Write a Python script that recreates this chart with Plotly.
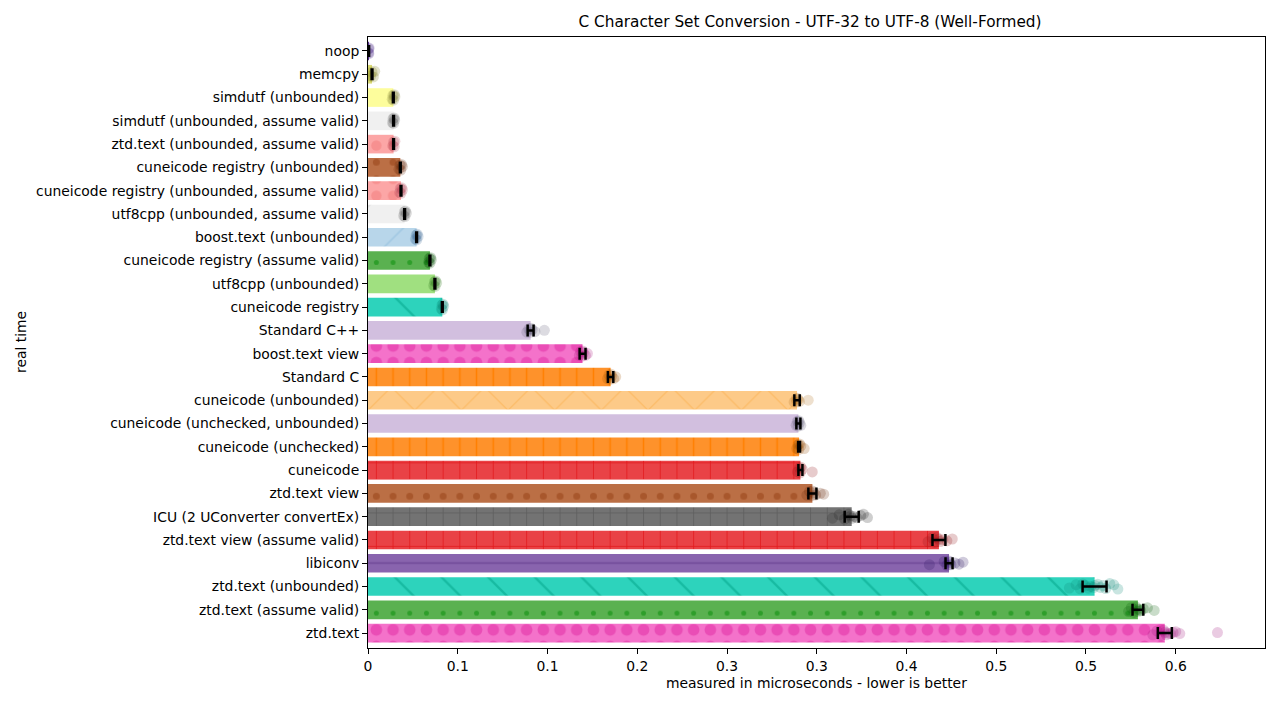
import plotly.graph_objects as go

categories = [
    "noop", "memcpy", "simdutf (unbounded)", "simdutf (unbounded, assume valid)",
    "ztd.text (unbounded, assume valid)", "cuneicode registry (unbounded)",
    "cuneicode registry (unbounded, assume valid)", "utf8cpp (unbounded, assume valid)",
    "boost.text (unbounded)", "cuneicode registry (assume valid)", "utf8cpp (unbounded)",
    "cuneicode registry", "Standard C++", "boost.text view", "Standard C",
    "cuneicode (unbounded)", "cuneicode (unchecked, unbounded)", "cuneicode (unchecked)",
    "cuneicode", "ztd.text view", "ICU (2 UConverter convertEx)",
    "ztd.text view (assume valid)", "libiconv", "ztd.text (unbounded)",
    "ztd.text (assume valid)", "ztd.text",
]

means = [
    0.0005, 0.003, 0.0188, 0.019, 0.019, 0.024, 0.0245, 0.0272, 0.0361, 0.046, 0.0497,
    0.0552, 0.1208, 0.1594, 0.1802, 0.3187, 0.3197, 0.3202, 0.3212, 0.3301, 0.3593,
    0.4241, 0.4316, 0.5397, 0.5719, 0.5919,
]

errors = [
    0.0003, 0.0003, 0.0003, 0.0003, 0.0003, 0.0003, 0.0003, 0.0003, 0.0003, 0.0003, 0.0003,
    0.0003, 0.0022, 0.0022, 0.002, 0.002, 0.0015, 0.0007, 0.0015, 0.003, 0.0052,
    0.0048, 0.0026, 0.0089, 0.004, 0.0052,
]

samples = [
    [0.0003, 0.0005, 0.0006, 0.0008],
    [0.002, 0.003, 0.004, 0.005],
    [0.018, 0.0185, 0.019, 0.0195, 0.020],
    [0.0182, 0.0186, 0.019, 0.0194, 0.0198],
    [0.0185, 0.019, 0.0195, 0.020],
    [0.023, 0.0238, 0.0243, 0.0248, 0.0255],
    [0.0235, 0.024, 0.0245, 0.025, 0.0256],
    [0.0265, 0.027, 0.0274, 0.0278, 0.0285],
    [0.0352, 0.0358, 0.0362, 0.0366, 0.0372],
    [0.045, 0.0455, 0.046, 0.0465, 0.047],
    [0.0488, 0.0494, 0.0498, 0.0502, 0.051],
    [0.0545, 0.055, 0.0553, 0.0557, 0.0562],
    [0.118, 0.1195, 0.1205, 0.121, 0.122, 0.124, 0.131],
    [0.157, 0.158, 0.159, 0.1595, 0.160, 0.1615, 0.163],
    [0.178, 0.179, 0.1798, 0.1805, 0.181, 0.1825, 0.184],
    [0.3165, 0.318, 0.3185, 0.319, 0.3195, 0.3205, 0.327],
    [0.318, 0.319, 0.3195, 0.320, 0.3205, 0.3215],
    [0.3185, 0.3195, 0.320, 0.3205, 0.3215, 0.324],
    [0.319, 0.3205, 0.321, 0.3215, 0.3225, 0.330],
    [0.326, 0.328, 0.3295, 0.330, 0.331, 0.3325, 0.336, 0.3385],
    [0.345, 0.350, 0.354, 0.357, 0.3585, 0.3595, 0.361, 0.363, 0.366, 0.368, 0.371],
    [0.416, 0.419, 0.421, 0.4225, 0.424, 0.425, 0.427, 0.430, 0.434],
    [0.417, 0.428, 0.430, 0.4315, 0.432, 0.433, 0.436, 0.439, 0.442],
    [0.521, 0.526, 0.529, 0.531, 0.533, 0.535, 0.537, 0.539, 0.540, 0.542, 0.544,
     0.546, 0.548, 0.551, 0.554, 0.557],
    [0.565, 0.567, 0.569, 0.5705, 0.5715, 0.572, 0.573, 0.574, 0.576, 0.579, 0.584],
    [0.583, 0.586, 0.589, 0.591, 0.592, 0.593, 0.594, 0.596, 0.598, 0.600, 0.603, 0.631],
]

x_tick_values = [0, 0.0667, 0.1333, 0.2, 0.2667, 0.3333, 0.4, 0.4667, 0.5333, 0.6]
x_tick_labels = ["0", "0.1", "0.1", "0.2", "0.3", "0.3", "0.4", "0.5", "0.5", "0.6"]

# styles
bar_colors = [
    "#5b3593", "#d8d874", "#fdfd9c", "#f0f0f0", "#fca6a6", "#bb6f45", "#fca6a6", "#f0f0f0",
    "#b8d6ea", "#5ab150", "#a0e080", "#2dd3bc", "#d2bfdf", "#f472ca", "#fe922b",
    "#fdca88", "#d2bfdf", "#fe922b", "#e94246", "#bb6f45", "#737373", "#e94246",
    "#8964ae", "#2dd3bc", "#5ab150", "#f472ca",
]
pattern_shapes = [
    "", "", "", "", ".", ".", ".", "/", "/", ".", "", "\\", "", ".", "|",
    "x", "", "|", "+", ".", "+", "+", "-", "\\", ".", ".",
]
pattern_fg = [
    "#5b3593", "#d8d874", "#fdfd9c", "#f0f0f0", "#f79090", "#a8572c", "#f79090", "#e0e0e0",
    "#a3c9e3", "#2e9e2a", "#a0e080", "#17bba2", "#d2bfdf", "#ea4db6", "#ff7f00",
    "#fcb860", "#d2bfdf", "#ff7f00", "#e31a1c", "#a8572c", "#5e5e5e", "#e31a1c",
    "#6f4897", "#17bba2", "#2e9e2a", "#ea4db6",
]
pattern_size = [
    8, 8, 8, 8, 16.7, 16.7, 16.7, 40, 40, 16.7, 8, 33, 8, 16.7, 16.7,
    33, 8, 16.7, 16.7, 16.7, 16.7, 16.7, 16.7, 33, 16.7, 16.7,
]
pattern_solid = [
    0.1, 0.1, 0.1, 0.1, 0.3, 0.14, 0.3, 0.04, 0.04, 0.07, 0.1, 0.07, 0.1, 0.38, 0.09,
    0.06, 0.1, 0.09, 0.09, 0.14, 0.09, 0.09, 0.09, 0.07, 0.07, 0.38,
]
point_colors = [
    "#3f1a80", "#7a7a10", "#808030", "#606060", "#b04050", "#6a2808", "#b04050", "#606060",
    "#3a6a98", "#0a500a", "#307a20", "#088a75", "#605a78", "#a8107a", "#a05000",
    "#b07020", "#605a78", "#904800", "#901015", "#6a2808", "#202020", "#901015",
    "#2a1060", "#088a75", "#0a5e0a", "#a0107a",
]


def rgba(hexc, a):
    h = hexc.lstrip("#")
    return "rgba(%d,%d,%d,%.3f)" % (int(h[0:2], 16), int(h[2:4], 16), int(h[4:6], 16), a)


fig = go.Figure()

for i, cat in enumerate(categories):
    pat = dict(shape=pattern_shapes[i], fgcolor=pattern_fg[i], fgopacity=1,
               size=pattern_size[i], solidity=pattern_solid[i], fillmode="overlay")
    fig.add_trace(go.Bar(
        x=[means[i]], y=[cat], orientation="h", width=0.8,
        marker=dict(color=bar_colors[i], line=dict(width=0), pattern=pat),
        hoverinfo="skip", showlegend=False,
    ))

for cat, vals, col in zip(categories, samples, point_colors):
    fig.add_trace(go.Box(
        x=vals, y=[cat] * len(vals), orientation="h",
        boxpoints="all", jitter=0.6, pointpos=0,
        fillcolor="rgba(0,0,0,0)", line=dict(width=0, color="rgba(0,0,0,0)"),
        marker=dict(size=11, color=rgba(col, 0.22), line=dict(width=0)),
        hoverinfo="skip", showlegend=False,
    ))

fig.add_trace(go.Scatter(
    x=means, y=categories, mode="markers",
    marker=dict(size=1, color="rgba(0,0,0,0)"),
    error_x=dict(type="data", array=errors, color="black", thickness=2.5, width=6),
    hoverinfo="skip", showlegend=False,
))

font = "DejaVu Sans, Liberation Sans, sans-serif"
fig.update_layout(
    width=1280, height=720,
    margin=dict(l=368, r=15, t=37, b=72),
    paper_bgcolor="white", plot_bgcolor="white",
    barmode="overlay", boxmode="overlay", boxgap=0.3,
    font=dict(family=font, size=13.9, color="black"),
    title=dict(text="C Character Set Conversion - UTF-32 to UTF-8 (Well-Formed)",
               x=810 / 1280, xanchor="center", y=1 - 22 / 720, yanchor="middle",
               font=dict(size=15.3, color="black")),
    showlegend=False,
    annotations=[
        dict(text="measured in microseconds - lower is better", x=0.5, xref="paper",
             y=-(683 - 648) / 611, yref="paper", yanchor="middle", showarrow=False,
             font=dict(size=13.9)),
        dict(text="real time", x=-(368 - 21) / 897, xref="paper", y=0.5 + (342.5 - 342) / 611,
             yref="paper", xanchor="center", yanchor="middle", textangle=-90,
             showarrow=False, font=dict(size=13.9)),
    ],
)

fig.update_xaxes(
    range=[0, 0.6663], tickmode="array", tickvals=x_tick_values, ticktext=x_tick_labels,
    showline=True, linecolor="black", linewidth=1, mirror=True,
    ticks="outside", ticklen=5, tickcolor="black", showgrid=False, zeroline=False,
    tickfont=dict(size=13.9),
)
fig.update_yaxes(
    type="category", categoryorder="array", categoryarray=categories,
    range=[25.64, -0.6],
    showline=True, linecolor="black", linewidth=1, mirror=True,
    ticks="outside", ticklen=5, tickcolor="black", showgrid=False, zeroline=False,
    tickfont=dict(size=13.9),
)

fig.write_html("out.html")
